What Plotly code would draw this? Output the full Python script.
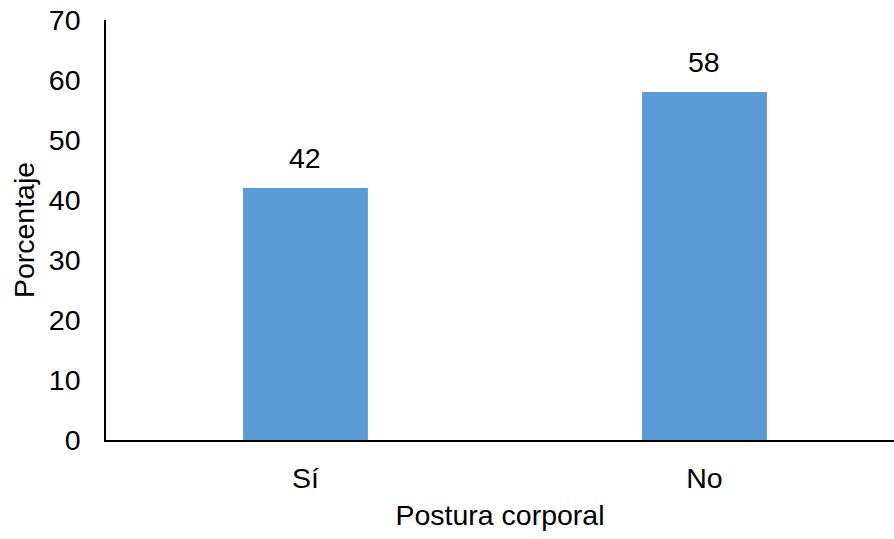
import plotly.graph_objects as go

# Data
categories = ["Sí", "No"]
values = [42, 58]
y_ticks = [0, 10, 20, 30, 40, 50, 60, 70]

FONT = "Liberation Sans, Arial, sans-serif"
FS = 28.5
BAR_COLOR = "#5B9BD5"

fig = go.Figure(
    go.Bar(
        x=categories,
        y=values,
        width=0.313,
        marker=dict(color=BAR_COLOR, line=dict(width=0)),
        hoverinfo="x+y",
    )
)

# Value labels above each bar
for cat, val in zip(categories, values):
    fig.add_annotation(
        x=cat,
        y=val,
        text=str(val),
        showarrow=False,
        yanchor="bottom",
        yshift=12,
        font=dict(family=FONT, size=FS, color="#000000"),
    )

fig.update_layout(
    width=894,
    height=539,
    margin=dict(l=106, r=0, t=20, b=99),
    paper_bgcolor="white",
    plot_bgcolor="white",
    showlegend=False,
    font=dict(family=FONT, size=FS, color="#000000"),
    xaxis=dict(
        type="category",
        range=[-0.5, 1.475],
        showgrid=False,
        showline=True,
        linecolor="#000000",
        linewidth=1.5,
        ticks="",
        ticklabelstandoff=12,
        tickfont=dict(family=FONT, size=FS, color="#000000"),
        title=dict(text="Postura corporal", font=dict(family=FONT, size=FS), standoff=12),
    ),
    yaxis=dict(
        range=[0, 70],
        tickvals=y_ticks,
        showgrid=False,
        zeroline=False,
        showline=True,
        linecolor="#000000",
        linewidth=1.5,
        ticks="",
        ticklabelstandoff=18,
        tickfont=dict(family=FONT, size=FS, color="#000000"),
        title=dict(text="Porcentaje", font=dict(family=FONT, size=FS), standoff=6),
    ),
)

fig.write_html("out.html")
